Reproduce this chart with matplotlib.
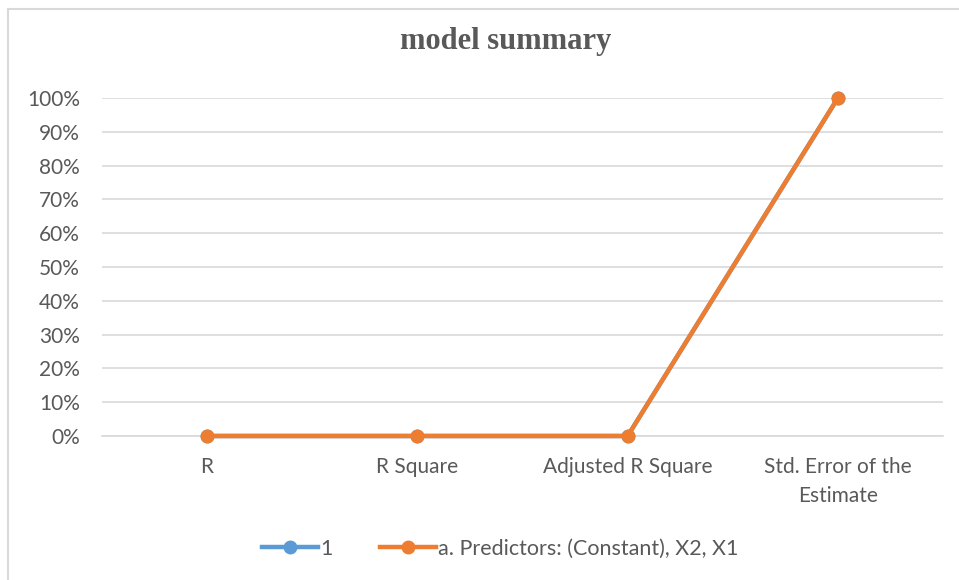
import matplotlib.pyplot as plt
from matplotlib.lines import Line2D
from matplotlib.ticker import PercentFormatter

categories = ['R', 'R Square', 'Adjusted R Square', 'Std. Error of the\nEstimate']
series_1 = [0.0, 0.0, 0.0, 1.0]
series_predictors = [0.0, 0.0, 0.0, 1.0]
y_ticks = [i / 10 for i in range(11)]

text_color = '#595959'
grid_color = '#D9D9D9'
tick_font = 'Lato'

fig = plt.figure(figsize=(9.59, 5.8), dpi=100)
ax = fig.add_axes([102 / 959, (580 - 436) / 580, 841 / 959, 338 / 580])

x = range(len(categories))
ax.plot(x, series_1, color='#5B9BD5', lw=3.2, marker='o', ms=9, label='1',
        solid_joinstyle='round', clip_on=False, zorder=3)
ax.plot(x, series_predictors, color='#ED7D31', lw=3.2, marker='o', ms=9,
        label='a. Predictors: (Constant), X2, X1', solid_joinstyle='round',
        clip_on=False, zorder=4)

ax.set_xlim(-0.5, len(categories) - 0.5)
ax.set_ylim(0, 1)
ax.set_yticks(y_ticks)
ax.yaxis.set_major_formatter(PercentFormatter(1.0, decimals=0))
ax.set_xticks(list(x))
ax.set_xticklabels(categories)
ax.grid(axis='y', color=grid_color, lw=1.2)
ax.set_axisbelow(True)
for side in ['top', 'right', 'left']:
    ax.spines[side].set_visible(False)
ax.spines['bottom'].set_color(grid_color)
ax.spines['bottom'].set_linewidth(1.2)
ax.tick_params(length=0, colors=text_color, labelsize=15)
ax.tick_params(axis='x', pad=15)
ax.tick_params(axis='y', pad=16)
for lab in ax.get_xticklabels() + ax.get_yticklabels():
    lab.set_fontfamily(tick_font)
    lab.set_linespacing(1.55)

fig.text(0.527, 1 - 41 / 580, 'model summary', ha='center', va='center',
         fontsize=22, fontweight='bold', family='Liberation Serif', color=text_color)

leg = fig.legend(loc='center', bbox_to_anchor=(0.522, 1 - 549 / 580), ncol=2,
                 frameon=False, labelcolor=text_color,
                 handlelength=2.6, columnspacing=2.2, handletextpad=0.1,
                 prop={'family': tick_font, 'size': 15.5})

# light frame around the chart area
fig.add_artist(Line2D([8 / 959, 8 / 959], [0, 1 - 9 / 580], color=grid_color, lw=1.5))
fig.add_artist(Line2D([8 / 959, 1], [1 - 9 / 580, 1 - 9 / 580], color=grid_color, lw=1.5))

fig.savefig('out.png', dpi=100)
